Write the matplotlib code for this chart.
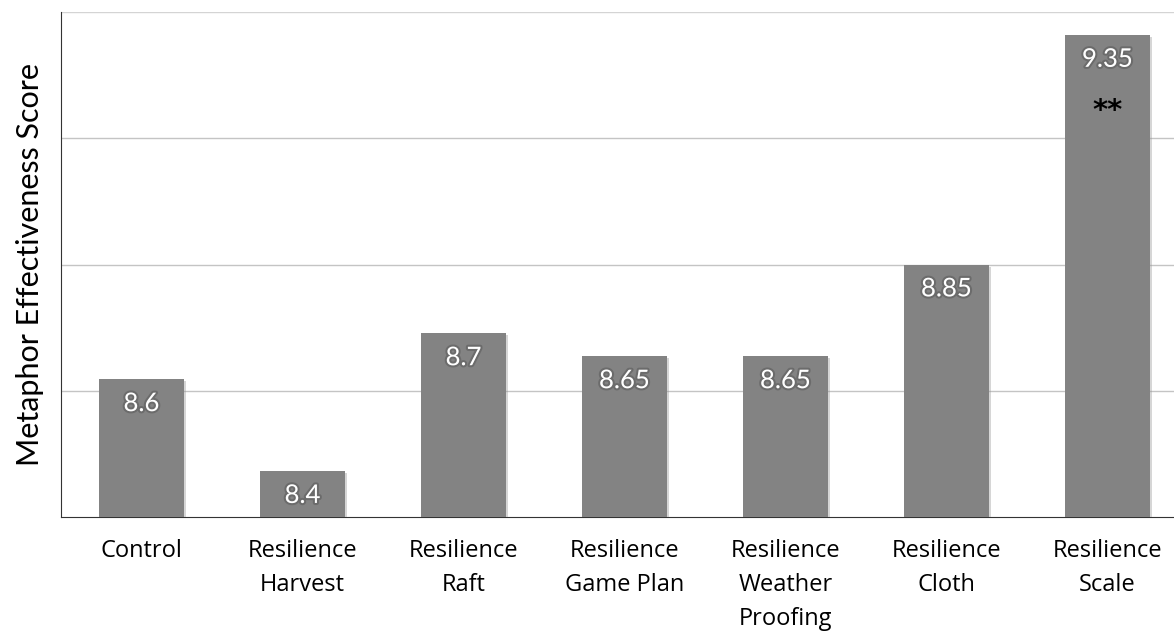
import matplotlib
matplotlib.use('Agg')
import matplotlib.pyplot as plt
import matplotlib.patheffects as pe

# Dati
categorie = ['Control', 'Resilience\nHarvest', 'Resilience\nRaft', 'Resilience\nGame Plan',
             'Resilience\nWeather\nProofing', 'Resilience\nCloth', 'Resilience\nScale']
punteggi = [8.6, 8.4, 8.7, 8.65, 8.65, 8.85, 9.35]
etichette = ['8.6', '8.4', '8.7', '8.65', '8.65', '8.85', '9.35']
griglia = [8.575, 8.85, 9.125, 9.4]

fig = plt.figure(figsize=(11.74, 6.31), dpi=100)
ax = fig.add_axes([61 / 1174, 114 / 631, 1127 / 1174, 505 / 631])

x = range(len(categorie))
ax.bar(x, punteggi, width=0.53, color='#838383', zorder=3,
       path_effects=[pe.SimplePatchShadow(offset=(1.5, -1.5), shadow_rgbFace='#999999', alpha=0.4), pe.Normal()])

ax.set_xlim(-0.5, len(categorie) - 0.5)
ax.set_ylim(8.3, 9.4)

for g in griglia:
    ax.axhline(g, color='#c4c4c4' if g < 9.4 else '#d4d4d4', linewidth=1, zorder=1)

for xi, v, t in zip(x, punteggi, etichette):
    ax.text(xi, v - 0.053, t, ha='center', va='center', color='white', fontsize=18.5,
            family='Lato', path_effects=[pe.withStroke(linewidth=3, foreground='#555555', alpha=0.5)], zorder=4)

ax.text(6, 9.185, '**', ha='center', va='center', fontsize=21, fontweight='bold', color='black', zorder=4)

ax.set_yticks([])
ax.set_xticks(list(x))
ax.set_xticklabels(categorie, fontsize=17, family='Open Sans', linespacing=1.55, va='top')
ax.tick_params(axis='x', length=0, pad=16)

for s in ['top', 'right']:
    ax.spines[s].set_visible(False)
ax.spines['left'].set_color('#333333')
ax.spines['bottom'].set_color('#333333')

ax.set_ylabel('Metaphor Effectiveness Score', fontsize=22, family='Lato', labelpad=12)

plt.savefig('out.png', dpi=100)
